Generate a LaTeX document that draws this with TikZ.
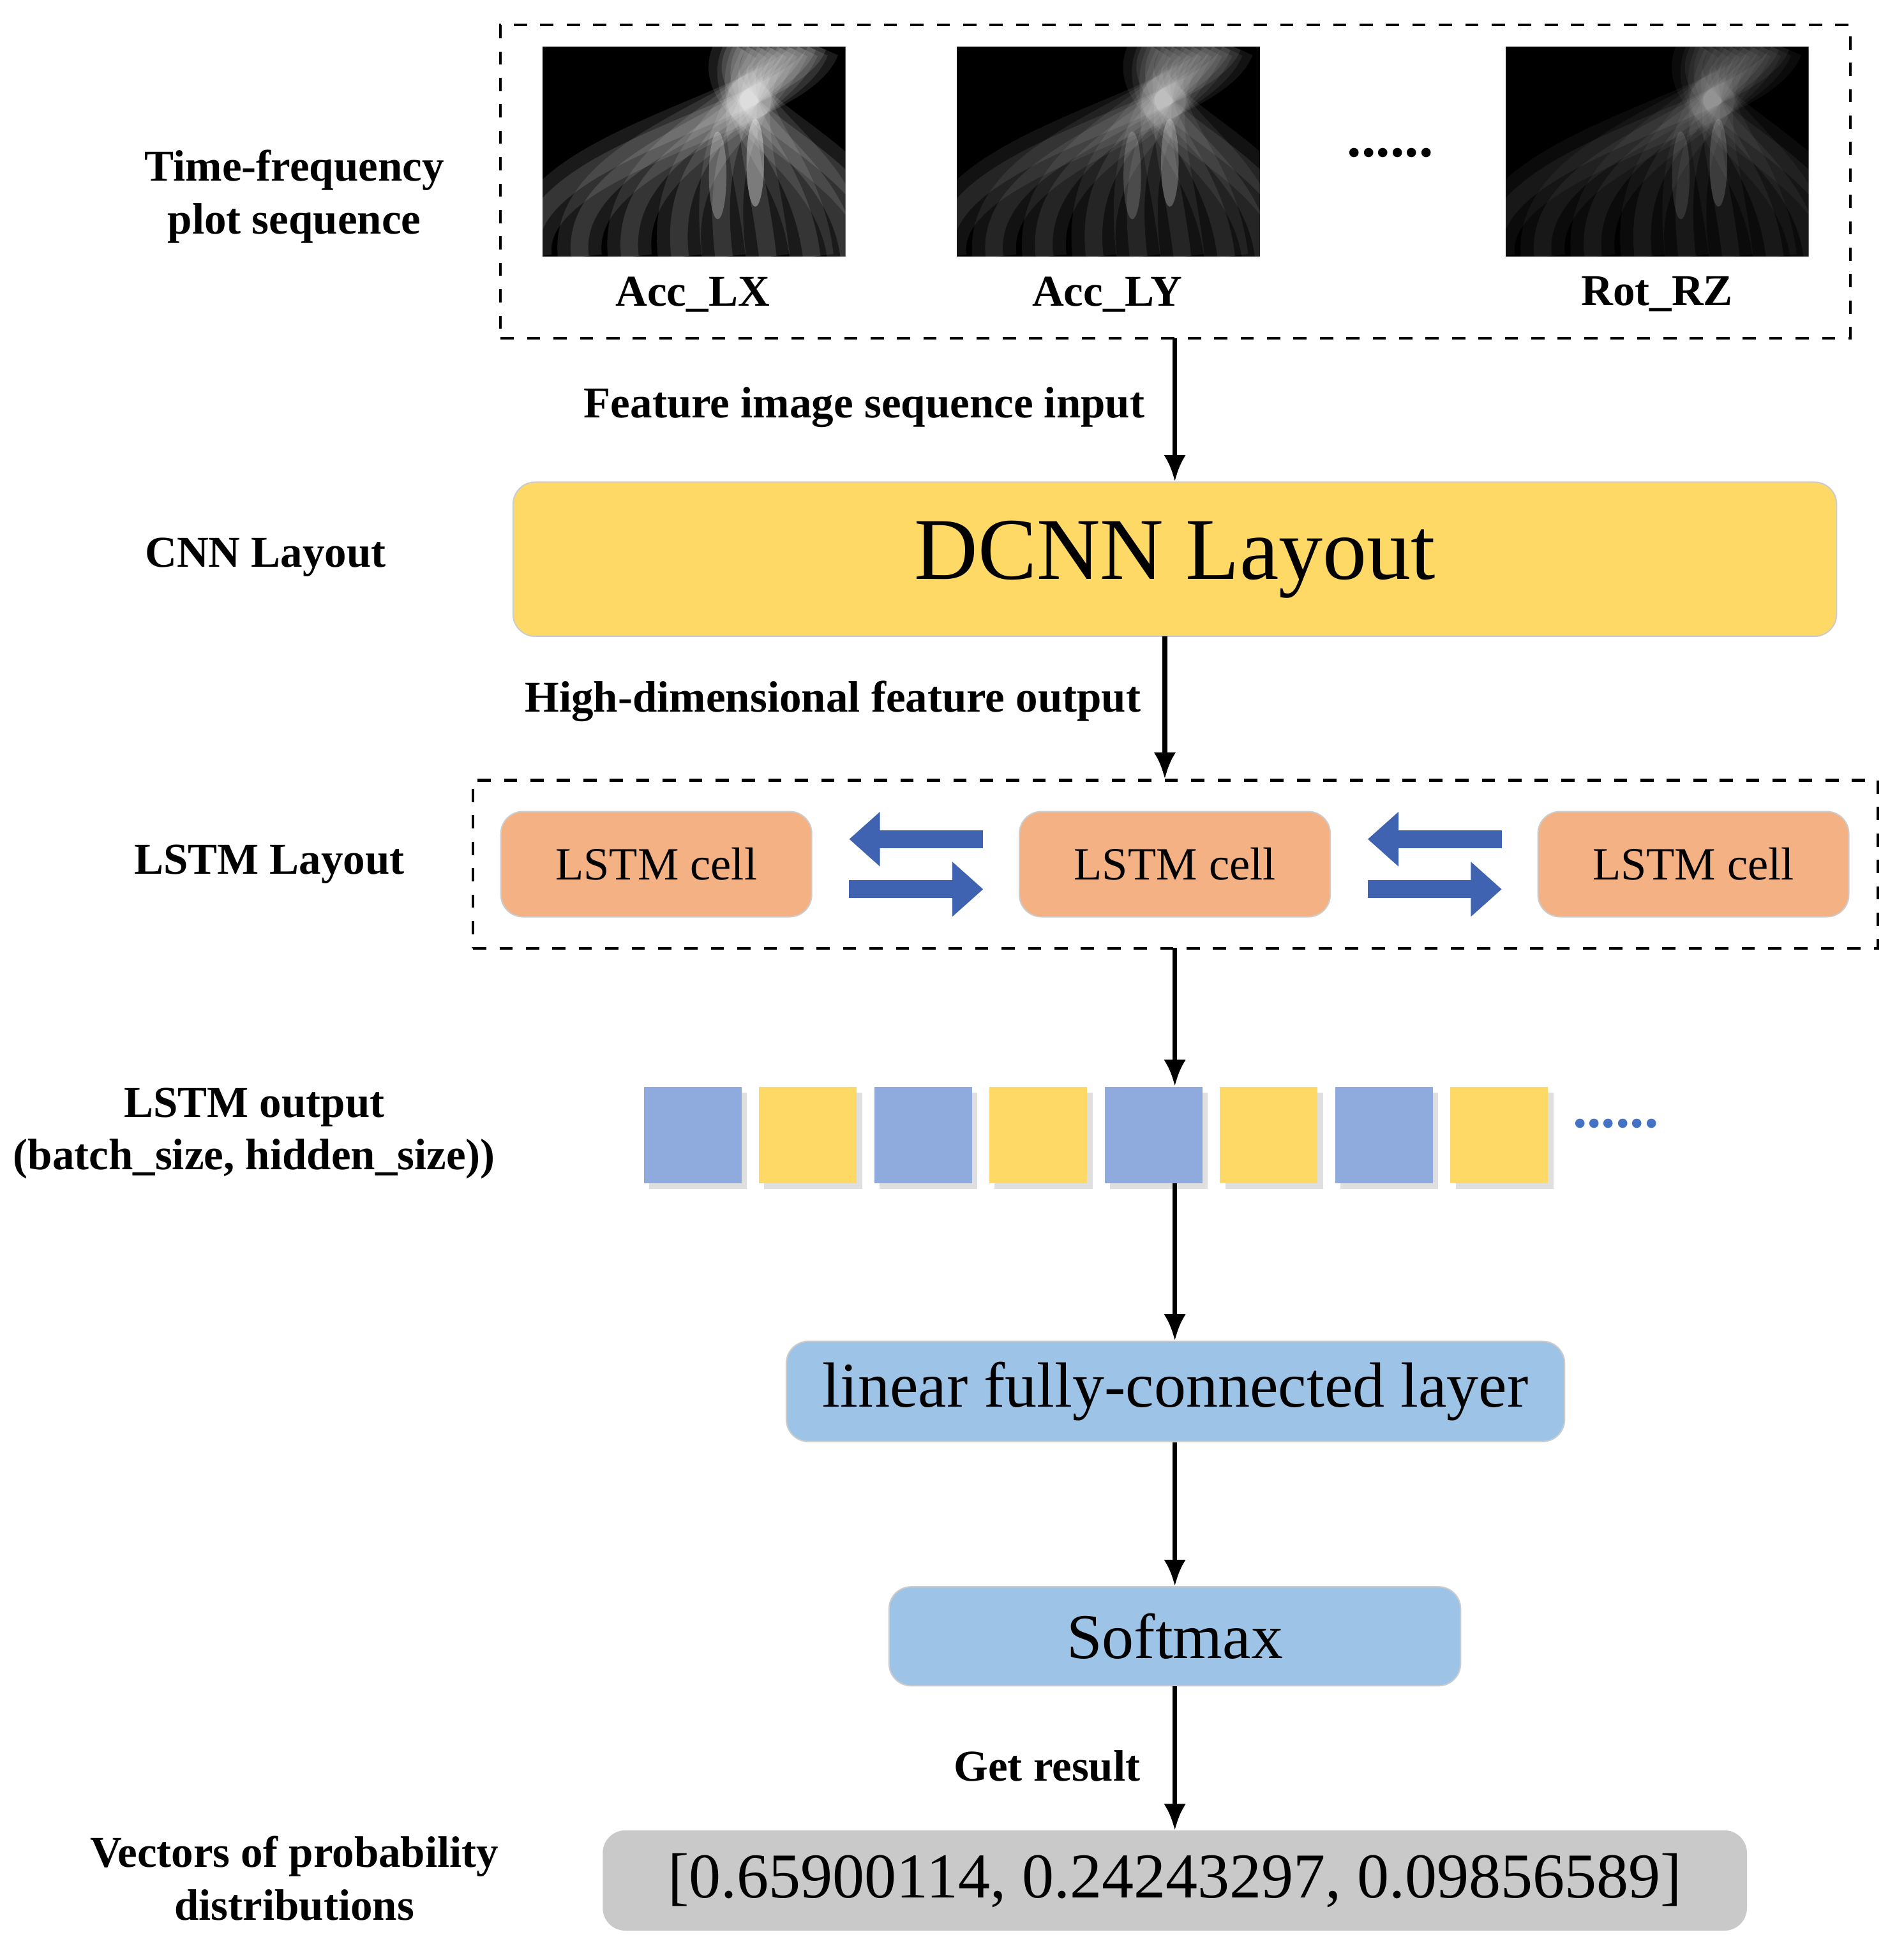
\documentclass[tikz,border=0pt]{standalone}
\usepackage{fontspec}
\setmainfont{Liberation Serif}
\usetikzlibrary{arrows.meta,shadows}
\begin{document}
\begin{tikzpicture}[x=0.01cm,y=-0.01cm,
  lbl/.style={font=\fontsize{10}{12}\selectfont\bfseries,align=center},
  arr/.style={line width=1.1pt,-{Latex[length=6pt,width=5pt]}},
  dbox/.style={draw,dashed,line width=0.6pt},
  blk/.style={rounded corners=5pt,draw=gray!40,line width=0.3pt},
  big/.style={font=\fontsize{14.5}{17}\selectfont},
  fat/.style={line width=4pt,color={rgb,255:red,63;green,99;blue,176},-{Triangle[length=7pt,width=12pt]}},
  sq/.style={minimum width=0.78cm,minimum height=0.77cm,inner sep=0pt,drop shadow={shadow xshift=1.2pt,shadow yshift=-1.2pt,opacity=0.25}}
]
\definecolor{ye}{RGB}{255,217,102}
\definecolor{bl}{RGB}{143,170,220}
\definecolor{lb}{RGB}{157,195,230}
\definecolor{or}{RGB}{244,177,131}
\definecolor{gr}{RGB}{201,201,201}
\useasboundingbox (0,0) rectangle (1520,1565);
% top box
\node[dbox,minimum width=10.77cm,minimum height=2.5cm] (top) at (938.5,145) {};
\foreach \x/\n/\s in {433/a/1,764/b/0.7,1202/c/0.45}{
  \begin{scope}
  \clip (\x,37) rectangle (\x+242,205);
  \fill[black] (\x,37) rectangle (\x+242,205);
  \foreach \k/\b in {0/-40,1/0,2/40,3/80,4/115,5/150,6/185,7/215,8/245}{
    \draw[white,opacity=0.10*\s,line width=10pt] (\x+220-\k*8,37) .. controls (\x+200-\k*10,90) and (\x+\b+20,120) .. (\x+\b+30,205);
    \draw[white,opacity=0.12*\s,line width=4pt] (\x+220-\k*8,37) .. controls (\x+200-\k*10,90) and (\x+\b+20,120) .. (\x+\b+30,205);
  }
  \fill[white,opacity=0.35*\s] (\x+170,130) ellipse (7 and 35);
  \fill[white,opacity=0.25*\s] (\x+140,140) ellipse (7 and 35);
  \end{scope}
  \node[minimum width=2.42cm,minimum height=1.68cm] (\n) at (\x+121,121) {};
}
\node[lbl] (la) at (553,235) {Acc\_LX};
\node[lbl] (lb) at (884,235) {Acc\_LY};
\node[lbl] (lc) at (1323,235) {Rot\_RZ};
\node[lbl,font=\fontsize{13}{13}\selectfont\bfseries] (dots) at (1110,122) {......};
\node[lbl] (t1) at (235,157) {Time-frequency\\plot sequence};
% DCNN
\node[blk,fill=ye,minimum width=10.56cm,minimum height=1.23cm,font=\fontsize{20}{24}\selectfont] (dcnn) at (938,446.5) {DCNN Layout};
\node[lbl] (t2) at (212,445) {CNN Layout};
\coordinate (s1) at (938,270);
\draw[arr] (s1) -- (dcnn.north -| s1);
\node[lbl] (f1) at (690,325) {Feature image sequence input};
% LSTM
\node[dbox,minimum width=11.21cm,minimum height=1.34cm] (lstm) at (938.5,690) {};
\coordinate (s2) at (930,508);
\draw[arr] (s2) -- (lstm.north -| s2);
\node[lbl] (f2) at (665,560) {High-dimensional feature output};
\foreach \x/\n in {524/c1,938/c2,1352/c3}
  \node[blk,fill=or,minimum width=2.48cm,minimum height=0.84cm,font=\fontsize{10.5}{13}\selectfont] (\n) at (\x,690) {LSTM cell};
\coordinate (a1) at (785,670); \coordinate (a2) at (678,670);
\coordinate (a3) at (678,710); \coordinate (a4) at (785,710);
\draw[fat] (a1) -- (a2); \draw[fat] (a3) -- (a4);
\coordinate (b1) at (1199,670); \coordinate (b2) at (1092,670);
\coordinate (b3) at (1092,710); \coordinate (b4) at (1199,710);
\draw[fat] (b1) -- (b2); \draw[fat] (b3) -- (b4);
\node[lbl] (t3) at (215,690) {LSTM Layout};
% squares
\foreach \i in {0,...,7}{
  \pgfmathsetmacro{\xx}{553+92*\i}
  \ifodd\i \node[sq,fill=ye] (q\i) at (\xx,906.5) {}; \else \node[sq,fill=bl] (q\i) at (\xx,906.5) {}; \fi
}
\node[font=\fontsize{13}{13}\selectfont\bfseries,text={rgb,255:red,68;green,114;blue,196}] (d2) at (1290,897) {......};
\coordinate (s3) at (938,757);
\draw[arr] (s3) -- (q4.north -| s3);
\node[lbl] (t4) at (203,905) {LSTM output\\(batch\_size, hidden\_size))};
% linear
\node[blk,fill=lb,minimum width=6.21cm,minimum height=0.8cm,big] (lin) at (938.5,1111) {linear fully-connected layer};
\coordinate (s4) at (938,945);
\draw[arr] (s4) -- (lin.north -| s4);
\node[blk,fill=lb,minimum width=4.56cm,minimum height=0.79cm,big] (soft) at (938,1306.5) {Softmax};
\draw[arr] (lin.south -| s4) -- (soft.north -| s4);
\node[blk,fill=gr,draw=gr,minimum width=9.12cm,minimum height=0.79cm,big] (res) at (938,1501.5) {[0.65900114, 0.24243297, 0.09856589]};
\draw[arr] (soft.south -| s4) -- (res.north -| s4);
\node[lbl] (g) at (836,1410) {Get result};
\node[lbl] (t5) at (235,1500) {Vectors of probability\\distributions};
\end{tikzpicture}
\end{document}
